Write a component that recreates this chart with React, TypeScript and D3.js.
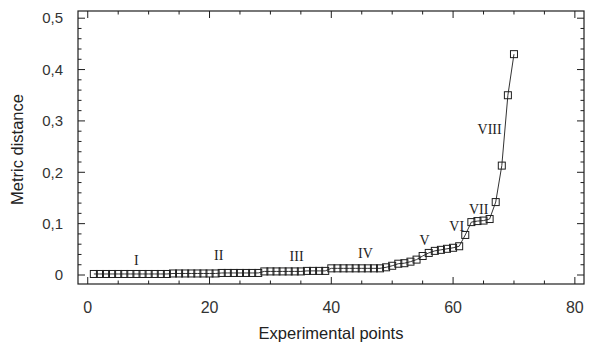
import React from 'react';
import * as d3 from 'd3';

// metric distance for each experimental point (1..70)
const distances = [
  0.002, 0.002, 0.002, 0.002, 0.002, 0.002, 0.002, 0.002, 0.002, 0.002,
  0.002, 0.002, 0.002, 0.003, 0.003, 0.003, 0.003, 0.003, 0.003, 0.003,
  0.003, 0.004, 0.004, 0.004, 0.004, 0.004, 0.004, 0.004, 0.007, 0.007,
  0.007, 0.007, 0.007, 0.007, 0.007, 0.008, 0.008, 0.008, 0.008, 0.013,
  0.013, 0.013, 0.013, 0.013, 0.013, 0.013, 0.013, 0.013, 0.015, 0.018,
  0.022, 0.023, 0.026, 0.030, 0.037, 0.043, 0.047, 0.049, 0.051, 0.053,
  0.056, 0.078, 0.103, 0.105, 0.106, 0.109, 0.142, 0.213, 0.350, 0.430,
];

const groupLabels = ['I', 'II', 'III', 'IV', 'V', 'VI', 'VII', 'VIII'];
const labelX = [8, 21.5, 34.3, 45.6, 55.3, 60.6, 64.2, 66];
const labelY = [0.03, 0.039, 0.036, 0.043, 0.068, 0.095, 0.128, 0.285];

const xTicks = [0, 20, 40, 60, 80];
const yTicks = [0, 0.1, 0.2, 0.3, 0.4, 0.5];

const W = 593;
const H = 344;
const margin = { top: 11, right: 9, bottom: 60, left: 78 };
const ink = '#1e1e1e';

export default function App() {
  const x = d3.scaleLinear().domain([-1.6, 81.5]).range([margin.left, W - margin.right]);
  const y = d3.scaleLinear().domain([-0.0175, 0.514]).range([H - margin.bottom, margin.top]);

  const pts = distances.map((v, i) => ({ n: i + 1, v }));
  const line = d3.line<{ n: number; v: number }>().x(d => x(d.n)).y(d => y(d.v));

  const x0 = x.range()[0], x1 = x.range()[1];
  const yb = y.range()[0], yt = y.range()[1];

  const xMinor = d3.range(0, 81, 5).filter(t => !xTicks.includes(t));
  const yMinor = d3.range(0, 51, 2).map(t => t / 100).filter(t => Math.round(t * 100) % 10 !== 0);

  const sq = 7;

  return (
    <svg width={W} height={H} style={{ position: 'absolute', left: 0, top: 0, background: '#fff' }}
      fontFamily="Liberation Sans, Arial, sans-serif">
      {/* frame */}
      <rect x={x0} y={yt} width={x1 - x0} height={yb - yt} fill="none" stroke={ink} strokeWidth={1.2} />

      {/* x ticks bottom + top */}
      {xTicks.map(t => (
        <g key={'xt' + t}>
          <line x1={x(t)} x2={x(t)} y1={yb} y2={yb - 7} stroke={ink} />
          <line x1={x(t)} x2={x(t)} y1={yt} y2={yt + 7} stroke={ink} />
          <text x={x(t)} y={yb + 29} textAnchor="middle" fontSize={16} fill="#333">{t}</text>
        </g>
      ))}
      {xMinor.map(t => (
        <g key={'xm' + t}>
          <line x1={x(t)} x2={x(t)} y1={yb} y2={yb - 3.5} stroke={ink} />
          <line x1={x(t)} x2={x(t)} y1={yt} y2={yt + 3.5} stroke={ink} />
        </g>
      ))}

      {/* y ticks left + right */}
      {yTicks.map(t => (
        <g key={'yt' + t}>
          <line x1={x0} x2={x0 + 7} y1={y(t)} y2={y(t)} stroke={ink} />
          <line x1={x1} x2={x1 - 7} y1={y(t)} y2={y(t)} stroke={ink} />
          <text x={x0 - 15} y={y(t)} dy="0.35em" textAnchor="end" fontSize={15} fill="#333">
            {t === 0 ? '0' : t.toFixed(1).replace('.', ',')}
          </text>
        </g>
      ))}
      {yMinor.map(t => (
        <g key={'ym' + t}>
          <line x1={x0} x2={x0 + 3.5} y1={y(t)} y2={y(t)} stroke={ink} />
          <line x1={x1} x2={x1 - 3.5} y1={y(t)} y2={y(t)} stroke={ink} />
        </g>
      ))}

      {/* axis titles */}
      <text x={(x0 + x1) / 2} y={H - 5} textAnchor="middle" fontSize={16.5} fill="#222">Experimental points</text>
      <text transform={`translate(23,${(yt + yb) / 2 + 2}) rotate(-90)`} textAnchor="middle" fontSize={16.5} fill="#222">
        Metric distance
      </text>

      {/* series */}
      <path d={line(pts) ?? ''} fill="none" stroke="#333" strokeWidth={1} />
      {pts.map(p => (
        <rect key={p.n} x={x(p.n) - sq / 2} y={y(p.v) - sq / 2} width={sq} height={sq}
          fill="none" stroke={ink} strokeWidth={1} />
      ))}

      {/* group labels */}
      {groupLabels.map((g, i) => (
        <text key={g} x={x(labelX[i])} y={y(labelY[i])} dy="0.35em" textAnchor="middle"
          fontSize={14} fontFamily="Liberation Serif, serif" fill="#222">{g}</text>
      ))}
    </svg>
  );
}
